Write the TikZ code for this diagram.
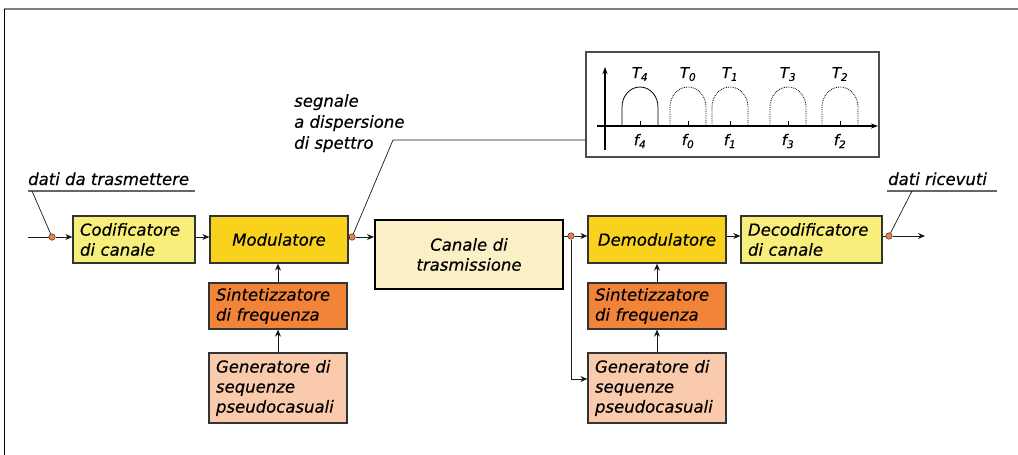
\documentclass[tikz,border=0pt]{standalone}
\usepackage{fontspec}
\setmainfont{DejaVu Sans}[ItalicFeatures={FakeBold=0.35}]
\usetikzlibrary{arrows.meta}
\definecolor{cYel}{HTML}{F7EE7B}
\definecolor{cGold}{HTML}{F9D21E}
\definecolor{cCream}{HTML}{FAEFC5}
\definecolor{cOrange}{HTML}{F2843A}
\definecolor{cPeach}{HTML}{F9CAAB}
\definecolor{cDot}{HTML}{F08040}
\definecolor{cBord}{HTML}{333333}
\tikzset{
  blk/.style={draw=cBord, line width=1.3pt, inner xsep=7pt, inner ysep=0pt,
    font=\fontsize{16.5}{20}\selectfont\itshape, align=left},
  dotn/.style={circle, fill=cDot, draw=cBord, line width=0.5pt, minimum size=6.5pt, inner sep=0pt},
  conn/.style={draw=black!90, line width=1pt},
  arr/.style={conn, -{Stealth[length=7pt,width=6pt]}},
  lbl/.style={font=\fontsize{16.5}{21}\selectfont\itshape, inner sep=0pt, align=left},
  spl/.style={font=\fontsize{15}{15}\selectfont\itshape, inner sep=0pt},
  uline/.style={draw=black!60, line width=1.8pt},
  leader/.style={draw=black!90, line width=0.7pt},
}
\begin{document}
\begin{tikzpicture}[x=1pt,y=-1pt]
\useasboundingbox (0,0) rectangle (1018,455);
% frame
\draw[draw=black!50, line width=2pt] (4,9) -- (1018,9);
\draw[draw=black, line width=0.6pt] (4,9) -- (4,455);

% blocks
\node[blk, fill=cYel, minimum width=122pt, minimum height=47pt, text width=108pt] (cod) at (134,239.5) {Codificatore\\di canale};
\node[blk, fill=cGold, minimum width=138pt, minimum height=47pt, text width=124pt, align=center] (mod) at (279,239.5) {Modulatore};
\node[blk, fill=cCream, line width=2pt, draw=black, minimum width=188pt, minimum height=69pt, text width=174pt, align=center] (can) at (469,254.5) {Canale di\\trasmissione};
\node[blk, fill=cGold, minimum width=138pt, minimum height=47pt, text width=124pt, align=center] (dem) at (657,239.5) {Demodulatore};
\node[blk, fill=cYel, minimum width=141pt, minimum height=47pt, text width=127pt] (dec) at (811.5,239.5) {Decodificatore\\di canale};
\node[blk, fill=cOrange, minimum width=138pt, minimum height=46pt, text width=124pt] (sin1) at (278,306) {Sintetizzatore\\di frequenza};
\node[blk, fill=cPeach, minimum width=138pt, minimum height=70pt, text width=124pt] (gen1) at (278,388) {Generatore di\\sequenze\\pseudocasuali};
\node[blk, fill=cOrange, minimum width=138pt, minimum height=46pt, text width=124pt] (sin2) at (657,306) {Sintetizzatore\\di frequenza};
\node[blk, fill=cPeach, minimum width=138pt, minimum height=70pt, text width=124pt] (gen2) at (657,388) {Generatore di\\sequenze\\pseudocasuali};

% main line
\coordinate (start) at (28,237);
\coordinate (stop) at (925,236);
\node[dotn] (d1) at (52,237) {};
\node[dotn] (d2) at (352,237) {};
\node[dotn] (d3) at (571,236) {};
\node[dotn] (d4) at (889,236) {};
\draw[conn] (start) -- (d1);
\draw[arr] (d1) -- (cod.west |- d1);
\draw[arr] (cod.east |- d1) -- (mod.west |- d1);
\draw[conn] (mod.east |- d2) -- (d2);
\draw[arr] (d2) -- (can.west |- d2);
\draw[conn] (can.east |- d3) -- (d3);
\draw[arr] (d3) -- (dem.west |- d3);
\draw[arr] (dem.east |- d3) -- (dec.west |- d3);
\draw[conn] (dec.east |- d4) -- (d4);
\draw[arr] (d4) -- (stop);
\coordinate (bend) at (571,379);
\draw[arr] (d3) -- (bend) -- (gen2.west |- bend);
\draw[arr] (sin1.north) -- (sin1.north |- mod.south);
\draw[arr] (gen1.north) -- (sin1.south);
\draw[arr] (sin2.north) -- (dem.south);
\draw[arr] (gen2.north) -- (sin2.south);

% labels with leaders
\node[lbl, anchor=base west] (tx) at (28,185) {dati da trasmettere};
\coordinate (u1a) at (28,191); \coordinate (u1b) at (195,191); \coordinate (u1l) at (32,191);
\draw[uline] (u1a) -- (u1b);
\draw[leader] (u1l) -- (d1);
\node[lbl, anchor=base west] (rx) at (888,185) {dati ricevuti};
\coordinate (u2a) at (887,191); \coordinate (u2b) at (997,191); \coordinate (u2l) at (912,191);
\draw[uline] (u2a) -- (u2b);
\draw[leader] (u2l) -- (d4);
\node[lbl, anchor=north west] (sg) at (294,94) {segnale\\a dispersione\\di spettro};

% spectrum box
\node[draw=black!70, line width=1.5pt, fill=white, minimum width=293pt, minimum height=105pt, inner sep=0pt] (spec) at (732.5,104.5) {};
\coordinate (k1) at (393,140);
\draw[leader] (d2) -- (k1) -- (spec.west |- k1);
\coordinate (ya) at (605,150); \coordinate (yb) at (605,67);
\coordinate (xa) at (597,126); \coordinate (xb) at (878,126);
\draw[line width=1.3pt, -{Stealth[length=7pt,width=5pt]}] (ya) -- (yb);
\draw[line width=1.3pt, -{Stealth[length=7pt,width=5pt]}] (xa) -- (xb);
\foreach \c/\i [count=\n] in {640/4,688/0,730/1,788/3,840/2}{
  \ifnum\n=1
    \draw[line width=0.8pt] (\c-18,126) -- (\c-18,107) arc[start angle=180,end angle=0,x radius=18pt,y radius=20pt] -- (\c+18,126);
  \else
    \draw[line width=0.8pt, densely dotted] (\c-18,126) -- (\c-18,107) arc[start angle=180,end angle=0,x radius=18pt,y radius=20pt] -- (\c+18,126);
  \fi
  \draw[line width=0.8pt] (\c,121) -- (\c,126);
  \node[spl] (T\i) at (\c,74) {T\textsubscript{\i}};
  \node[spl] (f\i) at (\c,141) {f\textsubscript{\i}};
}
\end{tikzpicture}
\end{document}
